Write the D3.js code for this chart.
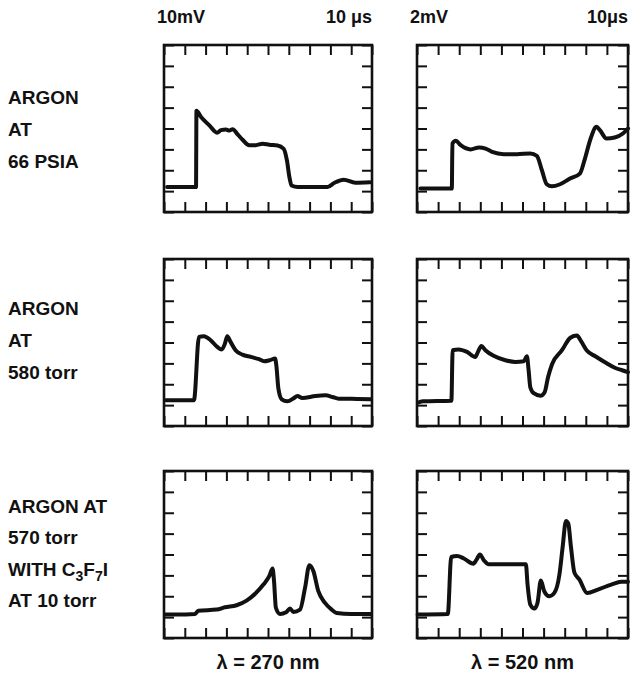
<!DOCTYPE html>
<html>
<head>
<meta charset="utf-8">
<script src="https://cdn.jsdelivr.net/npm/d3@7"></script>
<style>
  body { margin: 0; background: #fff; }
  svg text { font-family: "Liberation Sans", Arial, sans-serif; font-weight: bold; fill: #111; }
</style>
</head>
<body>
<div id="chart"></div>
<script>
// traces, in scope divisions: x 0..10 (time), y 0..8 (signal)
var trace270_66psia = [[0.15,1.2],[1.54,1.2],[1.56,4.85],[1.78,4.55],[2.18,4.15],[2.55,3.8],[2.74,3.92],[2.98,3.95],[3.14,3.9],[3.3,3.97],[3.54,3.72],[3.78,3.46],[4.1,3.2],[4.42,3.2],[4.74,3.27],[5.06,3.22],[5.46,3.19],[5.75,3.03],[5.91,2.47],[6.03,1.67],[6.13,1.27],[6.43,1.2],[7.86,1.2],[8.2,1.4],[8.64,1.55],[9.2,1.4],[9.9,1.42]];
var trace520_66psia = [[0.16,1.12],[1.65,1.12],[1.68,3.28],[1.84,3.41],[2.07,3.2],[2.54,3.0],[2.94,3.09],[3.25,3.04],[3.56,2.88],[4.11,2.77],[4.74,2.77],[5.37,2.8],[5.68,2.69],[5.92,2.0],[6.15,1.33],[6.39,1.23],[6.78,1.33],[7.25,1.6],[7.72,1.84],[7.96,2.56],[8.23,3.52],[8.51,4.08],[8.67,3.92],[8.98,3.52],[9.37,3.57],[9.76,3.76],[10,4.0]];
var trace270_580torr = [[0.08,1.23],[1.44,1.23],[1.68,4.27],[1.92,4.3],[2.24,4.11],[2.56,3.79],[2.77,3.66],[2.93,3.95],[3.04,4.3],[3.2,4.03],[3.44,3.63],[3.77,3.42],[4.17,3.31],[4.57,3.2],[4.81,3.1],[5.08,3.15],[5.34,3.23],[5.4,2.91],[5.5,1.79],[5.66,1.28],[5.93,1.18],[6.25,1.34],[6.41,1.44],[6.65,1.34],[7.29,1.44],[7.77,1.47],[8.1,1.39],[8.4,1.31],[9.0,1.3],[9.95,1.28]];
var trace520_580torr = [[0.08,1.13],[0.3,1.18],[1.63,1.21],[1.69,3.63],[1.97,3.67],[2.37,3.55],[2.76,3.31],[2.89,3.55],[3.05,3.83],[3.24,3.63],[3.63,3.36],[4.19,3.15],[4.66,3.07],[5.06,3.1],[5.21,3.34],[5.29,2.67],[5.37,1.86],[5.53,1.57],[5.85,1.45],[6.05,1.62],[6.21,2.34],[6.4,2.96],[6.87,3.63],[7.27,4.23],[7.58,4.33],[7.79,4.04],[8.06,3.6],[8.45,3.34],[8.93,3.04],[9.4,2.78],[9.72,2.67],[10,2.58]];
var trace270_c3f7i = [[0.05,1.12],[0.61,1.12],[1.49,1.15],[1.65,1.31],[2.53,1.36],[2.93,1.47],[3.49,1.57],[3.97,1.79],[4.38,2.12],[4.78,2.56],[5.06,2.96],[5.22,3.33],[5.29,2.72],[5.38,1.44],[5.58,1.15],[5.87,1.23],[6.06,1.41],[6.22,1.25],[6.54,1.36],[6.78,2.4],[6.99,3.49],[7.18,3.21],[7.42,2.24],[7.74,1.68],[8.06,1.36],[8.3,1.2],[9.0,1.15],[9.95,1.15]];
var trace520_c3f7i = [[0.03,1.12],[1.46,1.15],[1.62,3.88],[1.9,3.93],[2.22,3.81],[2.67,3.56],[2.83,3.77],[2.98,4.0],[3.17,3.72],[3.41,3.53],[4.29,3.53],[5.16,3.53],[5.24,2.56],[5.37,1.6],[5.56,1.41],[5.71,1.68],[5.87,2.76],[6.03,2.24],[6.27,2.0],[6.51,2.16],[6.75,3.04],[6.9,4.33],[7.06,5.61],[7.17,5.48],[7.3,4.33],[7.46,3.13],[7.7,2.8],[8.06,2.16],[8.57,2.32],[9.21,2.56],[9.68,2.69],[10,2.69]];

var rowLabels = [
  ["ARGON", "AT", "66 PSIA"],
  ["ARGON", "AT", "580 torr"],
  ["ARGON AT", "570 torr", "WITH C<sub>3</sub>F<sub>7</sub>I", "AT 10 torr"]
];
var scaleLabels = [["10mV", "10 \u03bcs"], ["2mV", "10\u03bcs"]];
var wavelengths = ["\u03bb = 270 nm", "\u03bb = 520 nm"];
var traces = [
  [trace270_66psia, trace520_66psia],
  [trace270_580torr, trace520_580torr],
  [trace270_c3f7i, trace520_c3f7i]
];

var width = 632, height = 679;
var colX = [164, 417], colW = [208, 211];
var rowY = [45, 259, 471], panelH = 167;

var svg = d3.select("#chart").append("svg")
  .attr("width", width)
  .attr("height", height);

traces.forEach(function(row, r) {
  row.forEach(function(data, c) {
    var x = d3.scaleLinear().domain([0, 10]).range([0, colW[c]]);
    var y = d3.scaleLinear().domain([0, 8]).range([panelH, 0]);
    var g = svg.append("g").attr("transform", "translate(" + colX[c] + "," + rowY[r] + ")");

    // graticule ticks pointing inward on all four sides
    var tk = 10;
    g.append("g").call(d3.axisTop(x).ticks(10).tickSize(-tk).tickFormat(""))
      .call(function(s) { s.select(".domain").remove(); });
    g.append("g").attr("transform", "translate(0," + panelH + ")")
      .call(d3.axisBottom(x).ticks(10).tickSize(-tk).tickFormat(""))
      .call(function(s) { s.select(".domain").remove(); });
    g.append("g").call(d3.axisLeft(y).ticks(8).tickSize(-tk).tickFormat(""))
      .call(function(s) { s.select(".domain").remove(); });
    g.append("g").attr("transform", "translate(" + colW[c] + ",0)")
      .call(d3.axisRight(y).ticks(8).tickSize(-tk).tickFormat(""))
      .call(function(s) { s.select(".domain").remove(); });
    g.selectAll(".tick line").attr("stroke", "#111").attr("stroke-width", 2);

    g.append("rect")
      .attr("width", colW[c]).attr("height", panelH)
      .attr("fill", "none").attr("stroke", "#111").attr("stroke-width", 2.6);

    var line = d3.line()
      .x(function(d) { return x(d[0]); })
      .y(function(d) { return y(d[1]); })
      .curve(d3.curveMonotoneX);

    g.append("path")
      .datum(data)
      .attr("d", line)
      .attr("fill", "none")
      .attr("stroke", "#111")
      .attr("stroke-width", 4)
      .attr("stroke-linejoin", "round")
      .attr("stroke-linecap", "round");
  });
});

// scale labels above the top row
scaleLabels.forEach(function(lab, c) {
  svg.append("text").attr("x", colX[c] - 7).attr("y", 23)
    .attr("font-size", 18).text(lab[0]);
  svg.append("text").attr("x", colX[c] + colW[c]).attr("y", 23)
    .attr("font-size", 18).attr("text-anchor", "end").text(lab[1]);
});

// condition labels on the left
var rowTextY = [[104, 136, 168], [315, 347, 379], [513, 544, 576, 607]];
rowLabels.forEach(function(lines, r) {
  lines.forEach(function(t, i) {
    var txt = svg.append("text").attr("x", 8).attr("y", rowTextY[r][i]).attr("font-size", 19);
    if (t.indexOf("<sub>") < 0) {
      txt.text(t);
    } else {
      var first = true;
      t.split(/(<sub>.*?<\/sub>)/).forEach(function(part) {
        if (!part) return;
        var m = part.match(/<sub>(.*?)<\/sub>/);
        if (m) txt.append("tspan").attr("dy", 5).attr("font-size", 14).text(m[1]);
        else txt.append("tspan").attr("dy", first ? 0 : -5).text(part);
        first = false;
      });
    }
  });
});

// wavelength labels below the bottom row
wavelengths.forEach(function(t, c) {
  svg.append("text").attr("x", colX[c] + colW[c] / 2).attr("y", 669)
    .attr("font-size", 20).attr("text-anchor", "middle").text(t);
});
</script>
</body>
</html>
